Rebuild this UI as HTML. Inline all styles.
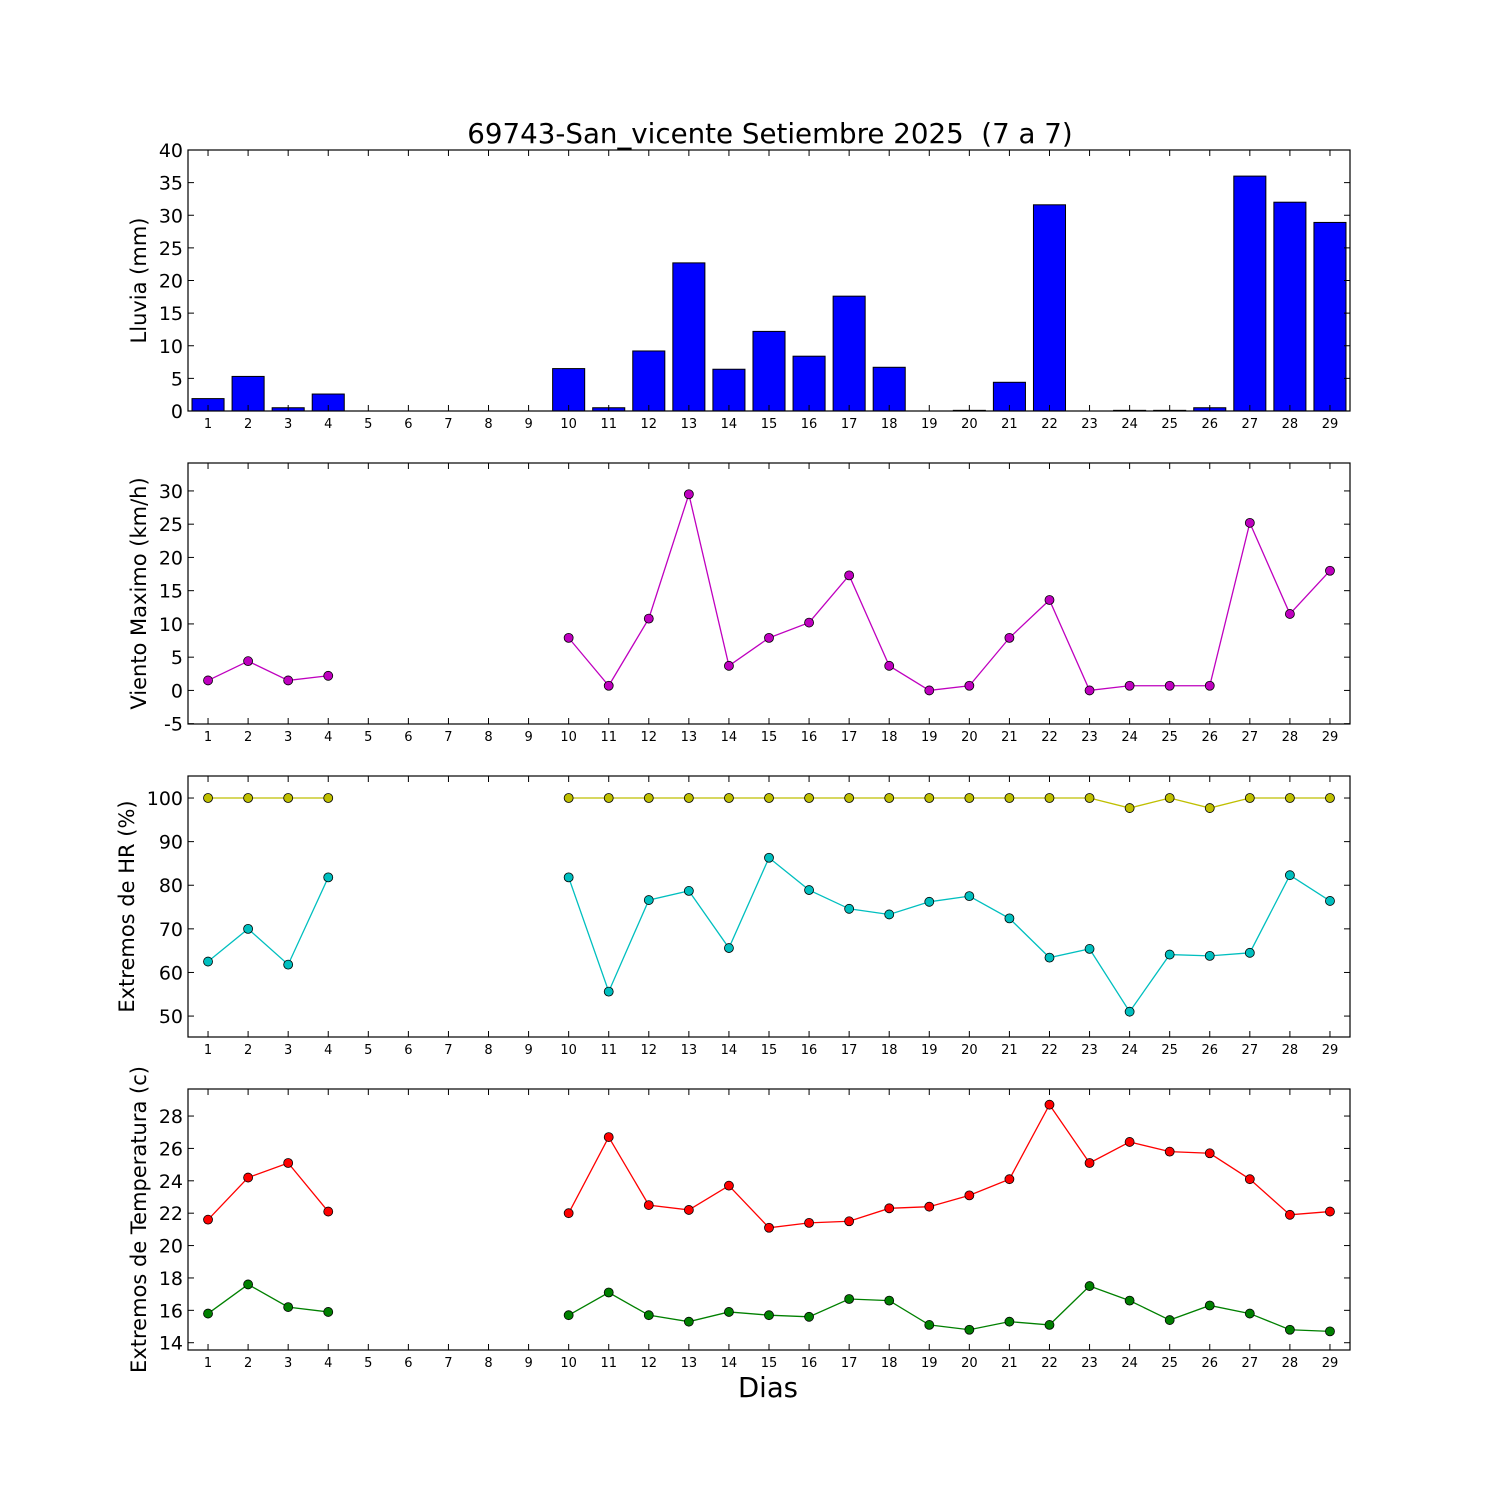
<!DOCTYPE html>
<html><head><meta charset="utf-8"><style>
html,body{margin:0;padding:0;background:#fff}
svg text{font-family:"DejaVu Sans","Liberation Sans",sans-serif;fill:#000}
</style></head><body>
<svg id="chart" xmlns="http://www.w3.org/2000/svg" width="1500" height="1500" viewBox="0 0 1500 1500">
<rect width="1500" height="1500" fill="#fff"/>
<text x="770" y="143" font-size="27.7" text-anchor="middle" xml:space="preserve">69743-San_vicente Setiembre 2025 &#160;(7 a 7)</text>
<text x="768" y="1397" font-size="27.5" text-anchor="middle">Dias</text>
</svg>
<script>
const days = [1,2,3,4,5,6,7,8,9,10,11,12,13,14,15,16,17,18,19,20,21,22,23,24,25,26,27,28,29];
const rain = [1.9,5.3,0.5,2.6,null,null,null,null,null,6.5,0.5,9.2,22.7,6.4,12.2,8.4,17.6,6.7,0,0.1,4.4,31.6,0,0.1,0.1,0.5,36,32,28.9];
const wind = [1.5,4.4,1.5,2.2,null,null,null,null,null,7.9,0.7,10.8,29.5,3.7,7.9,10.2,17.3,3.7,0,0.7,7.9,13.6,0,0.7,0.7,0.7,25.2,11.5,18];
const hrMax = [100,100,100,100,null,null,null,null,null,100,100,100,100,100,100,100,100,100,100,100,100,100,100,97.7,100,97.7,100,100,100];
const hrMin = [62.5,70,61.8,81.8,null,null,null,null,null,81.8,55.6,76.6,78.7,65.6,86.3,78.9,74.6,73.3,76.2,77.5,72.4,63.4,65.4,51,64.1,63.8,64.5,82.3,76.4];
const tMax = [21.6,24.2,25.1,22.1,null,null,null,null,null,22,26.7,22.5,22.2,23.7,21.1,21.4,21.5,22.3,22.4,23.1,24.1,28.7,25.1,26.4,25.8,25.7,24.1,21.9,22.1];
const tMin = [15.8,17.6,16.2,15.9,null,null,null,null,null,15.7,17.1,15.7,15.3,15.9,15.7,15.6,16.7,16.6,15.1,14.8,15.3,15.1,17.5,16.6,15.4,16.3,15.8,14.8,14.7];
const rainTicks = [0,5,10,15,20,25,30,35,40];
const windTicks = [-5,0,5,10,15,20,25,30];
const hrTicks = [50,60,70,80,90,100];
const tTicks = [14,16,18,20,22,24,26,28];

const NS='http://www.w3.org/2000/svg';
const svg=document.getElementById('chart');
const X0=188,X1=1350;
function xs(d){return X0+(d-0.5)/29*(X1-X0);}
function mk(tag,attrs,parent){const e=document.createElementNS(NS,tag);for(const k in attrs)e.setAttribute(k,attrs[k]);(parent||svg).appendChild(e);return e;}

function panel(name,top,bot,ymin,ymax,ticks,label,series,bars){
  const g=mk('g',{});
  
  
  const ys=v=>bot-(v-ymin)/(ymax-ymin)*(bot-top);
  if(bars){
    bars.forEach((v,i)=>{
      if(v===null)return;
      const x=xs(days[i]-0.4),w=xs(days[i]+0.4)-x;
      const r=mk('rect',{x:x,y:ys(v),width:w,height:ys(0)-ys(v),fill:'#0000ff',stroke:'#000','stroke-width':1},g);
      
      
    });
  }
  (series||[]).forEach(s=>{
    let d='',pen=false;
    s.data.forEach((v,i)=>{
      if(v===null){pen=false;return;}
      d+=(pen?'L':'M')+xs(days[i])+' '+ys(v);pen=true;
    });
    const p=mk('path',{d:d,fill:'none',stroke:s.color,'stroke-width':1.3},g);
    
    
    s.data.forEach((v,i)=>{
      if(v===null)return;
      const c=mk('circle',{cx:xs(days[i]),cy:ys(v),r:4.5,fill:s.color,stroke:'#000','stroke-width':0.8},g);
      
      
    });
  });
  const fr=mk('rect',{x:X0,y:top,width:X1-X0,height:bot-top,fill:'none',stroke:'#000','stroke-width':1.2},g);
  
  
  ticks.forEach(t=>{
    const y=ys(t);
    mk('line',{x1:X0,x2:X0+6,y1:y,y2:y,stroke:'#000'},g);
    mk('line',{x1:X1,x2:X1-6,y1:y,y2:y,stroke:'#000'},g);
    const tx=mk('text',{x:X0-5,y:y+7,'font-size':19,'text-anchor':'end'},g);
    tx.textContent=t;
    
    
  });
  days.forEach(dd=>{
    const x=xs(dd);
    mk('line',{x1:x,x2:x,y1:bot,y2:bot-6,stroke:'#000'},g);
    mk('line',{x1:x,x2:x,y1:top,y2:top+6,stroke:'#000'},g);
    const tx=mk('text',{x:x,y:bot+17,'font-size':13,'text-anchor':'middle'},g);
    tx.textContent=dd;
    
    
  });
  const cy=(top+bot)/2;
  const lb=mk('text',{x:0,y:0,'font-size':21,'text-anchor':'middle',transform:'translate('+(name==='hr'?134:146)+' '+cy+') rotate(-90)'},g);
  lb.textContent=label;
  
  
}
panel('rain',150,411,0,40,rainTicks,'Lluvia (mm)',[],rain);
panel('wind',463,724,-5.05,34.2,windTicks,'Viento Maximo (km/h)',[{name:'wind',color:'#bf00bf',data:wind}]);
panel('hr',776,1037,45.2,105.05,hrTicks,'Extremos de HR (%)',[{name:'hr-max',color:'#bfbf00',data:hrMax},{name:'hr-min',color:'#00bfbf',data:hrMin}]);
panel('temp',1089,1350,13.55,29.67,tTicks,'Extremos de Temperatura (c)',[{name:'temp-max',color:'#ff0000',data:tMax},{name:'temp-min',color:'#008000',data:tMin}]);
</script>
</body></html>
